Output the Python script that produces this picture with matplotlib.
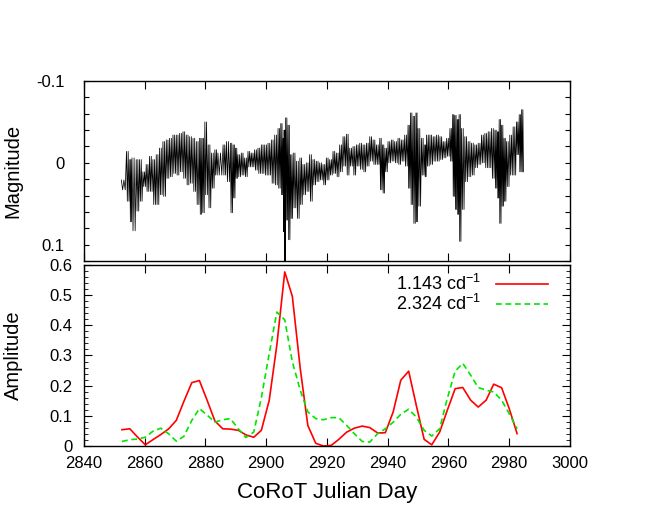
import numpy as np
import matplotlib
matplotlib.use("Agg")
import matplotlib.pyplot as plt
from matplotlib.ticker import MultipleLocator, FuncFormatter

plt.rcParams['font.family'] = ['Liberation Sans', 'DejaVu Sans']
plt.rcParams['mathtext.fontset'] = 'custom'
plt.rcParams['mathtext.rm'] = 'Liberation Sans'
plt.rcParams['mathtext.default'] = 'regular'

# light curve: bright / faint extremes, per ~1 d
lc_time = [2852.3, 2854.0, 2855.1, 2855.8, 2857.2, 2858.3, 2859.4, 2860.5, 2861.6, 2862.7,
           2863.8, 2864.9, 2866.0, 2867.1, 2868.2, 2869.3, 2870.4, 2871.5, 2872.6, 2873.7,
           2874.8, 2875.9, 2877.0, 2878.1, 2878.9, 2879.8, 2880.9, 2882.0, 2883.1, 2884.1,
           2885.8, 2886.9, 2888.2, 2889.1, 2889.9, 2890.7, 2891.8, 2892.9, 2894.0, 2895.1,
           2896.2, 2897.3, 2898.4, 2899.5, 2900.6, 2901.7, 2902.8, 2903.9, 2904.8, 2905.6,
           2905.9, 2906.4, 2907.2, 2908.0, 2908.9, 2910.0, 2911.1, 2912.1, 2913.2, 2914.3,
           2915.4, 2916.5, 2917.6, 2918.7, 2919.8, 2920.9, 2922.0, 2923.1, 2924.2, 2925.3,
           2926.4, 2927.5, 2928.6, 2929.7, 2930.8, 2931.9, 2933.0, 2934.1, 2935.2, 2936.3,
           2937.4, 2938.3, 2939.1, 2940.1, 2941.2, 2942.3, 2943.4, 2944.5, 2945.6, 2946.7,
           2947.5, 2948.4, 2949.3, 2950.0, 2951.1, 2952.2, 2952.8, 2953.9, 2955.0, 2956.1,
           2957.2, 2958.3, 2959.4, 2960.5, 2961.4, 2962.1, 2962.9, 2963.5, 2964.3, 2965.4,
           2966.5, 2967.6, 2968.7, 2969.8, 2970.9, 2972.0, 2973.1, 2974.2, 2975.3, 2976.1,
           2976.7, 2977.5, 2978.3, 2979.1, 2980.2, 2981.3, 2982.4, 2983.3, 2984.1]
lc_bright = [0.021, -0.014, -0.004, -0.006, -0.004, -0.004, 0.011, 0.002, -0.008, -0.004,
             -0.010, -0.018, -0.026, -0.028, -0.030, -0.034, -0.034, -0.036, -0.038, -0.034,
             -0.032, -0.030, -0.026, -0.030, -0.030, -0.050, -0.022, -0.012, -0.016, -0.012,
             -0.022, -0.026, -0.024, -0.022, -0.018, -0.010, -0.012, -0.006, -0.014, -0.012,
             -0.016, -0.018, -0.022, -0.022, -0.024, -0.028, -0.034, -0.042, -0.048, -0.030,
             -0.040, -0.055, -0.046, -0.010, -0.012, -0.002, -0.006, 0.002, 0.000, -0.010,
             -0.004, -0.002, 0.000, 0.002, -0.006, -0.004, -0.014, -0.012, -0.022, -0.032,
             -0.035, -0.018, -0.020, -0.022, -0.024, -0.022, -0.024, -0.032, -0.028, -0.022,
             -0.030, -0.022, -0.018, -0.026, -0.028, -0.026, -0.030, -0.028, -0.034, -0.046,
             -0.061, -0.057, -0.061, -0.042, -0.030, -0.022, -0.034, -0.034, -0.032, -0.034,
             -0.032, -0.026, -0.030, -0.042, -0.059, -0.058, -0.053, -0.059, -0.042, -0.032,
             -0.026, -0.024, -0.022, -0.024, -0.034, -0.036, -0.038, -0.042, -0.040, -0.038,
             -0.053, -0.046, -0.030, -0.026, -0.034, -0.044, -0.050, -0.059, -0.065]
lc_faint = [0.033, 0.047, 0.072, 0.083, 0.059, 0.047, 0.029, 0.035, 0.035, 0.051,
            0.051, 0.039, 0.041, 0.019, 0.017, 0.013, 0.015, 0.011, 0.019, 0.027,
            0.025, 0.035, 0.051, 0.063, 0.061, 0.039, 0.055, 0.031, 0.015, 0.015,
            0.015, 0.023, 0.061, 0.043, 0.019, 0.017, 0.015, 0.017, 0.005, 0.005,
            0.009, 0.013, 0.013, 0.015, 0.015, 0.025, 0.027, 0.031, 0.039, 0.084,
            0.125, 0.070, 0.094, 0.068, 0.055, 0.068, 0.051, 0.039, 0.035, 0.047,
            0.027, 0.023, 0.021, 0.027, 0.021, 0.015, 0.013, 0.017, 0.011, 0.004,
            0.015, 0.004, 0.015, 0.004, 0.008, 0.011, 0.004, -0.002, 0.002, 0.002,
            0.033, 0.037, 0.011, 0.000, -0.002, 0.000, 0.002, -0.002, 0.004, 0.031,
            0.051, 0.074, 0.072, 0.053, 0.015, 0.017, 0.004, 0.002, -0.002, -0.002,
            -0.004, -0.006, -0.008, -0.002, 0.041, 0.057, 0.063, 0.096, 0.057, 0.023,
            0.017, 0.015, 0.006, 0.002, 0.000, 0.006, 0.006, 0.019, 0.031, 0.043,
            0.074, 0.053, 0.047, 0.029, 0.015, 0.015, -0.010, 0.011, 0.011]

# amplitude of the two frequencies along the run
amp_time = [2852.5, 2855.1, 2857.6, 2860.2, 2862.7, 2865.3, 2867.8, 2870.4, 2872.9, 2875.5,
            2878.0, 2880.6, 2883.1, 2885.7, 2888.2, 2890.8, 2893.3, 2895.9, 2898.4, 2901.0,
            2903.5, 2906.1, 2908.6, 2911.2, 2913.7, 2916.3, 2918.8, 2921.4, 2923.9, 2926.5,
            2929.0, 2931.6, 2934.1, 2936.7, 2939.2, 2941.8, 2944.3, 2946.9, 2949.4, 2952.0,
            2954.5, 2957.1, 2959.6, 2962.2, 2964.7, 2967.3, 2969.8, 2972.4, 2974.9, 2977.5,
            2980.0, 2982.6]
amp_f1 = [0.054, 0.057, 0.030, 0.004, 0.021, 0.038, 0.056, 0.085, 0.148, 0.210,
          0.217, 0.150, 0.083, 0.057, 0.056, 0.052, 0.037, 0.029, 0.052, 0.152,
          0.335, 0.577, 0.496, 0.257, 0.068, 0.009, 0.000, 0.002, 0.022, 0.046,
          0.059, 0.066, 0.061, 0.043, 0.044, 0.113, 0.218, 0.248, 0.135, 0.022,
          0.004, 0.046, 0.118, 0.190, 0.194, 0.152, 0.129, 0.152, 0.205, 0.193,
          0.124, 0.041]
amp_f2 = [0.015, 0.021, 0.023, 0.029, 0.049, 0.059, 0.041, 0.016, 0.032, 0.085,
          0.124, 0.102, 0.079, 0.087, 0.091, 0.057, 0.028, 0.046, 0.160, 0.307,
          0.444, 0.418, 0.279, 0.185, 0.113, 0.091, 0.087, 0.094, 0.094, 0.068,
          0.041, 0.015, 0.013, 0.041, 0.057, 0.079, 0.105, 0.122, 0.096, 0.052,
          0.033, 0.057, 0.157, 0.248, 0.274, 0.235, 0.194, 0.185, 0.179, 0.152,
          0.107, 0.057]
freq_labels = ['1.143 cd$^{-1}$', '2.324 cd$^{-1}$']

# draw the light curve as a dense oscillation between the read extremes
# (two swings per reading interval)
t = np.array(lc_time)
dt = np.append(np.diff(t), 0.8)
zz_t = np.column_stack([t, t + dt / 4, t + dt / 2, t + 3 * dt / 4]).ravel()
zz_m = np.column_stack([lc_bright, lc_faint, lc_bright, lc_faint]).ravel()


def mag_fmt(v, p):
    if abs(v * 10 - round(v * 10)) > 1e-6:
        return ''
    v = round(v, 1)
    return '0' if v == 0 else '%g' % v


def amp_fmt(v, p):
    v = round(v, 1)
    return '0' if v == 0 else '%g' % v


fig = plt.figure(figsize=(6.54, 5.27), dpi=100)
ax1 = fig.add_axes([0.1284, 0.5047, 0.7431, 0.3416])
ax2 = fig.add_axes([0.1284, 0.1537, 0.7431, 0.3435])

ax1.plot(zz_t, zz_m, color='black', lw=0.55)
ax1.set_xlim(2840, 3000)
ax1.set_ylim(0.12, -0.1)
ax1.yaxis.set_major_locator(MultipleLocator(0.02))
ax1.yaxis.set_major_formatter(FuncFormatter(mag_fmt))
ax1.xaxis.set_major_locator(MultipleLocator(20))
ax1.set_xticklabels([])
ax1.set_ylabel('Magnitude', fontsize=14.5)
ax1.yaxis.set_label_coords(-0.126, 0.5)
ax1.tick_params(axis='y', direction='in', length=3.5, right=True, labelsize=12, pad=14)
ax1.tick_params(axis='x', direction='in', length=6, top=True)

ax2.plot(amp_time, amp_f1, color='#ff0000', lw=1.2, label=freq_labels[0])
ax2.plot(amp_time, amp_f2, color='#00e600', lw=1.2, dashes=(3.5, 2.2), label=freq_labels[1])
ax2.set_xlim(2840, 3000)
ax2.set_ylim(0, 0.6)
ax2.xaxis.set_major_locator(MultipleLocator(20))
ax2.yaxis.set_major_locator(MultipleLocator(0.1))
ax2.yaxis.set_minor_locator(MultipleLocator(0.02))
ax2.yaxis.set_major_formatter(FuncFormatter(amp_fmt))
ax2.tick_params(axis='both', which='major', direction='in', length=6, top=True, right=True, labelsize=12)
ax2.tick_params(axis='y', which='minor', direction='in', length=3, right=True)
ax2.tick_params(axis='x', pad=7)
ax2.tick_params(axis='y', pad=8)
ax2.set_xlabel('CoRoT Julian Day', fontsize=16, labelpad=8)
ax2.set_ylabel('Amplitude', fontsize=14.5)
ax2.yaxis.set_label_coords(-0.126, 0.5)
ax2.legend(loc='upper right', bbox_to_anchor=(0.955, 0.95), frameon=False, markerfirst=False,
           fontsize=13, handlelength=2.9, labelspacing=0.0, borderaxespad=0.0, borderpad=0.0,
           handletextpad=0.8)

for ax in (ax1, ax2):
    for s in ax.spines.values():
        s.set_linewidth(1.0)

fig.savefig('out.png', dpi=100)
